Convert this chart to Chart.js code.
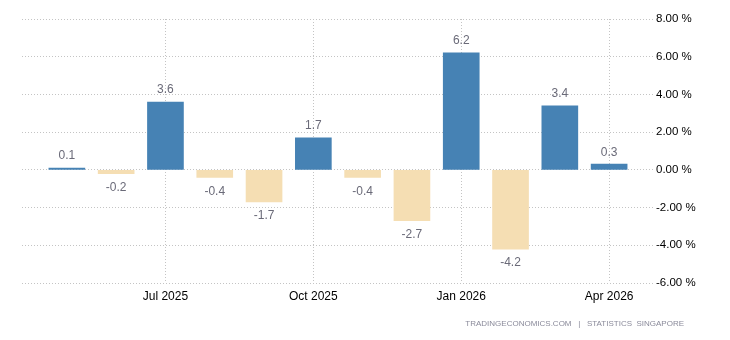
<!DOCTYPE html>
<html>
<head>
<meta charset="utf-8">
<script src="https://cdn.jsdelivr.net/npm/chart.js@4/dist/chart.umd.min.js"></script>
<style>
html,body{margin:0;padding:0;background:#fff;}
#wrap{position:relative;width:730px;height:340px;}
#footer{position:absolute;right:46px;top:319px;font-family:"Liberation Sans",Arial,sans-serif;font-size:8px;color:#8a8a9a;white-space:pre;letter-spacing:0px;}
</style>
</head>
<body>
<div id="wrap">
<canvas id="c" width="730" height="340"></canvas>
<div id="footer">TRADINGECONOMICS.COM   |   STATISTICS  SINGAPORE</div>
</div>
<script>
const categories = ['May 2025','Jun 2025','Jul 2025','Aug 2025','Sep 2025','Oct 2025','Nov 2025','Dec 2025','Jan 2026','Feb 2026','Mar 2026','Apr 2026'];
const values = [0.1, -0.2, 3.6, -0.4, -1.7, 1.7, -0.4, -2.7, 6.2, -4.2, 3.4, 0.3];
const tickLabels = ['Jul 2025','Oct 2025','Jan 2026','Apr 2026'];
const yTicks = [8, 6, 4, 2, 0, -2, -4, -6];

const POS = '#4682B4', NEG = '#F5DEB3';
const points = values.map((v, i) => ({x: i, y: v}));
const tickIdx = tickLabels.map(l => categories.indexOf(l));

const labelPlugin = {
  id: 'valueLabels',
  afterDatasetsDraw(chart) {
    const ctx = chart.ctx;
    const meta = chart.getDatasetMeta(0);
    ctx.save();
    ctx.font = '12px "Liberation Sans", Arial, sans-serif';
    ctx.fillStyle = '#6a6a78';
    ctx.textAlign = 'center';
    ctx.textBaseline = 'middle';
    meta.data.forEach((el, i) => {
      const v = values[i];
      const y = v >= 0 ? el.y - 12 : el.y + 14;
      ctx.fillText(v.toFixed(1), el.x, y);
    });
    ctx.restore();
  }
};

new Chart(document.getElementById('c'), {
  type: 'bar',
  data: {
    datasets: [{
      data: points,
      backgroundColor: values.map(v => v >= 0 ? POS : NEG),
      borderWidth: 0,
      barThickness: 36
    }]
  },
  options: {
    responsive: false,
    animation: false,
    events: [],
    layout: {padding: {left: 22, top: 19, right: 0, bottom: 27}},
    plugins: {legend: {display: false}, tooltip: {enabled: false}},
    scales: {
      x: {
        type: 'linear',
        min: -0.91,
        max: 11.89,
        offset: false,
        afterBuildTicks(scale) { scale.ticks = tickIdx.map(v => ({value: v})); },
        afterFit(scale) { scale.height = 30; },
        ticks: {
          autoSkip: false,
          maxRotation: 0,
          padding: 6,
          color: '#000',
          font: {family: '"Liberation Sans", Arial, sans-serif', size: 12},
          callback: (v) => categories[v]
        },
        grid: {color: '#c4c4c4', drawTicks: false, tickLength: 0, offset: false},
        border: {display: false, dash: [1, 2]}
      },
      y: {
        position: 'right',
        min: -6,
        max: 8,
        afterBuildTicks(scale) { scale.ticks = yTicks.map(v => ({value: v})); },
        afterFit(scale) { scale.width = 77; },
        ticks: {
          padding: 3,
          color: '#000',
          font: {family: '"Liberation Sans", Arial, sans-serif', size: 11.5},
          callback: (v) => v.toFixed(2) + ' %'
        },
        grid: {color: '#c4c4c4', drawTicks: false, tickLength: 0},
        border: {display: false, dash: [1, 2]}
      }
    }
  },
  plugins: [labelPlugin]
});
</script>
</body>
</html>
